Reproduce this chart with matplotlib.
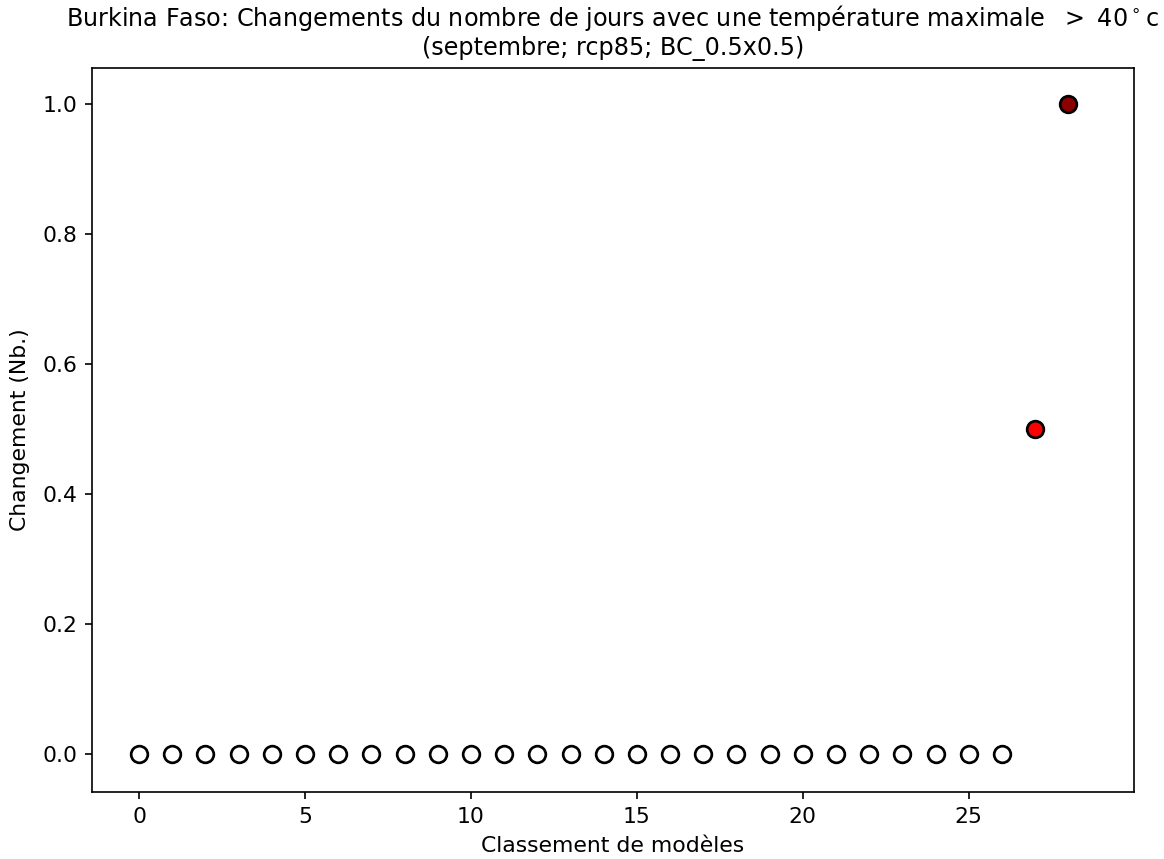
import matplotlib
matplotlib.use("Agg")
import matplotlib.pyplot as plt

# model rank and change values
ranks = list(range(29))
changes = [0.0] * 27 + [0.5, 1.0]
face_colors = ["white"] * 27 + ["red", "darkred"]

title = ("Burkina Faso: Changements du nombre de jours avec une température maximale  $>\\ 40^\\circ$c\n"
         "(septembre; rcp85; BC_0.5x0.5)")

plt.rcParams["font.size"] = 10.5

fig = plt.figure(figsize=(7.76, 5.7267), dpi=150)
ax = fig.add_axes([0.079, 0.078, 0.895, 0.843])

for x, y, c in zip(ranks, changes, face_colors):
    ax.plot(x, y, "o", markersize=8, markerfacecolor=c,
            markeredgecolor="black", markeredgewidth=1.3)

ax.set_xlim(-1.42, 29.97)
ax.set_ylim(-0.058, 1.055)
ax.set_xlabel("Classement de modèles", labelpad=4.5)
ax.set_ylabel("Changement (Nb.)", labelpad=6)
ax.set_title(title, fontsize=11.45)

fig.savefig("out.png", dpi=150)
